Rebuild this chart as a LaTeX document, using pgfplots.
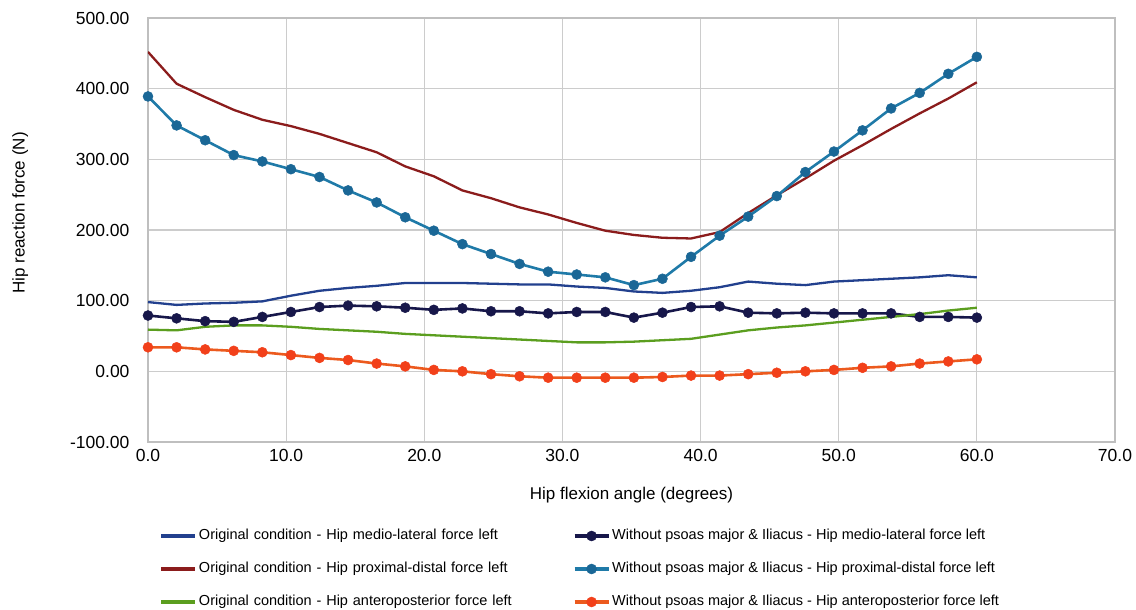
\documentclass[border=0pt]{standalone}
\usepackage{fontspec}
\setmainfont{Liberation Sans}
\usepackage{pgfplots}
\usepackage{pgfplotstable}
\pgfplotsset{compat=1.18}
\definecolor{cOML}{HTML}{22408E}
\definecolor{cOPD}{HTML}{8B1C1C}
\definecolor{cOAP}{HTML}{5B9E1F}
\definecolor{cWML}{HTML}{17174A}
\definecolor{cWPD}{HTML}{1F7AA8}
\definecolor{cWPDm}{HTML}{1A6796}
\definecolor{cWAP}{HTML}{EC5A1E}
\definecolor{cWAPm}{HTML}{F2401A}
\pgfplotstableread{
x oml wml opd wpd oap wap
0 98 79 452 389 59 34
2.069 94 75 407 348 58 34
4.138 96 71 388 327 63 31
6.207 97 70 370 306 65 29
8.276 99 77 356 297 65 27
10.345 107 84 347 286 63 23
12.414 114 91 336 275 60 19
14.483 118 93 323 256 58 16
16.552 121 92 310 239 56 11
18.621 125 90 290 218 53 7
20.690 125 87 276 199 51 2
22.759 125 89 256 180 49 0
24.828 124 85 245 166 47 -4
26.897 123 85 232 152 45 -7
28.966 123 82 222 141 43 -9
31.034 120 84 210 137 41 -9
33.103 118 84 199 133 41 -9
35.172 113 76 193 122 42 -9
37.241 111 83 189 131 44 -8
39.310 114 91 188 162 46 -6
41.379 119 92 197 192 52 -6
43.448 127 83 224 219 58 -4
45.517 124 82 249 248 62 -2
47.586 122 83 273 282 65 0
49.655 127 82 298 311 69 2
51.724 129 82 320 341 73 5
53.793 131 82 343 372 77 7
55.862 133 77 365 394 81 11
57.931 136 77 386 421 86 14
60 133 76 409 445 90 17
}\datatable
\begin{document}
\begin{tikzpicture}
\useasboundingbox (0pt,0pt) rectangle (1136pt,610pt);
\begin{axis}[
  at={(148pt,168pt)}, anchor=south west,
  scale only axis, width=967pt, height=424pt,
  xmin=0, xmax=70, ymin=-100, ymax=500,
  xtick={0,10,20,30,40,50,60,70},
  ytick={-100,0,100,200,300,400,500},
  grid=major,
  major grid style={draw=black!20, line width=1.1pt},
  axis line style={draw=black!25, line width=1.3pt},
  tick style={draw=none},
  /pgf/number format/assume math mode=true,
  xticklabel={\pgfmathprintnumber[fixed,fixed zerofill,precision=1]{\tick}},
  yticklabel={\pgfmathprintnumber[fixed,fixed zerofill,precision=2]{\tick}},
  xticklabel style={font=\fontsize{17.5}{21}\selectfont, yshift=-4pt},
  yticklabel style={font=\fontsize{17.5}{21}\selectfont, xshift=-15pt},
  xlabel={Hip flexion angle (degrees)},
  ylabel={Hip reaction force (N)},
  xlabel style={font=\fontsize{17}{20}\selectfont, at={(axis description cs:0.5,-0.125)}, anchor=center},
  ylabel style={font=\fontsize{17}{20}\selectfont, at={(axis description cs:-0.132,0.54)}, anchor=center},
  legend columns=2,
  legend cell align=left,
  legend style={draw=none, fill=none, inner sep=0pt,
    at={(axis description cs:0.012,-0.2)}, anchor=north west,
    font=\fontsize{14.5}{17}\selectfont,
    nodes={inner sep=2pt, text height=11pt, text depth=3pt},
    row sep=15pt,
    /tikz/column 2/.style={text width=372pt},
    /tikz/column 4/.style={xshift=6pt}},
  legend image code/.code={\draw[mark repeat=2,mark phase=2,#1] plot coordinates {(0pt,0pt) (17pt,0pt) (34pt,0pt)};},
  legend image post style={line width=3.2pt},
]
\addplot[cOML, line width=2.3pt, no markers] table[x=x,y=oml]{\datatable};
\addlegendentry{Original condition - Hip medio-lateral force left}
\addplot[cWML, line width=2.6pt, mark=*, mark size=5pt, mark options={fill=cWML, draw=cWML, line width=0.5pt}] table[x=x,y=wml]{\datatable};
\addlegendentry{Without psoas major \& Iliacus - Hip medio-lateral force left}
\addplot[cOPD, line width=2.3pt, no markers] table[x=x,y=opd]{\datatable};
\addlegendentry{Original condition - Hip proximal-distal force left}
\addplot[cWPD, line width=2.6pt, mark=*, mark size=5pt, mark options={fill=cWPDm, draw=cWPDm, line width=0.5pt}] table[x=x,y=wpd]{\datatable};
\addlegendentry{Without psoas major \& Iliacus - Hip proximal-distal force left}
\addplot[cOAP, line width=2.3pt, no markers] table[x=x,y=oap]{\datatable};
\addlegendentry{Original condition - Hip anteroposterior force left}
\addplot[cWAP, line width=2.6pt, mark=*, mark size=5pt, mark options={fill=cWAPm, draw=cWAPm, line width=0.5pt}] table[x=x,y=wap]{\datatable};
\addlegendentry{Without psoas major \& Iliacus - Hip anteroposterior force left}
\end{axis}
\end{tikzpicture}
\end{document}
